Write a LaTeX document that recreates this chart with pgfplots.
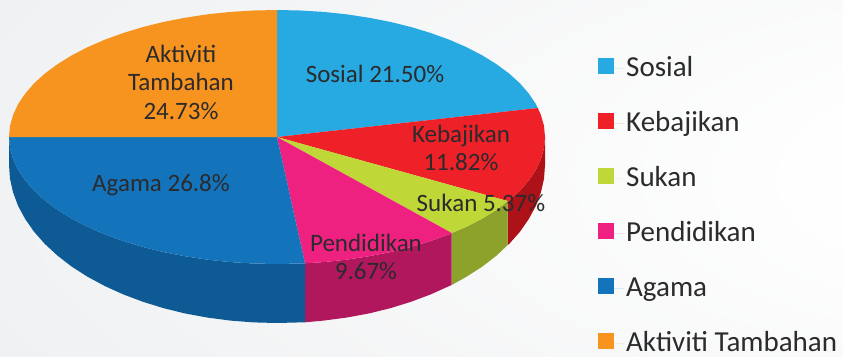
\documentclass[border=0pt]{standalone}
\usepackage{fontspec}
\setmainfont{Carlito}
\usepackage{pgfplots}
\pgfplotsset{compat=1.18}
\definecolor{cSos}{HTML}{27AAE1}
\definecolor{cKeb}{HTML}{EE2028}
\definecolor{cSuk}{HTML}{BFD737}
\definecolor{cPen}{HTML}{EE2180}
\definecolor{cAga}{HTML}{1374BC}
\definecolor{cAkt}{HTML}{F79420}
\definecolor{dKeb}{HTML}{AC1218}
\definecolor{dSuk}{HTML}{8CA22B}
\definecolor{dPen}{HTML}{B0175D}
\definecolor{dAga}{HTML}{0E5A94}
\definecolor{txt}{HTML}{2B2A2D}
\definecolor{bgA}{HTML}{FFFFFF}
\definecolor{bgB}{HTML}{F3F4F5}
\definecolor{bgC}{HTML}{E3E4E6}
\pgfdeclareradialshading{bgshade}{\pgfpoint{43bp}{0bp}}{color(0bp)=(bgA); color(12bp)=(bgA); color(45bp)=(bgB); color(100bp)=(bgC); color(130bp)=(bgC)}
\newcommand{\lblfont}{\fontsize{25pt}{28.5pt}\selectfont}
\begin{document}
\begin{tikzpicture}
\path[use as bounding box] (0pt,0pt) rectangle (843pt,356pt);
\path[shading=bgshade] (0pt,0pt) rectangle (843pt,356pt);
\begin{axis}[
  at={(0pt,0pt)}, anchor=south west,
  scale only axis, width=843pt, height=356pt,
  xmin=0, xmax=843, ymin=0, ymax=356, y dir=reverse,
  hide axis, clip=false,
  legend image code/.code={\fill[#1] (0pt,-5pt) rectangle (16pt,11pt); \path (0pt,0pt) -- (26pt,0pt);},
  legend cell align=left,
  legend style={at={(axis cs:598,55)}, anchor=north west, draw=none, fill=none,
    font=\fontsize{29pt}{32pt}\selectfont, text=txt, inner sep=0pt, row sep=28pt,
    nodes={text height=19pt,text depth=4pt}},
]
% side walls
\addplot[fill=dKeb,draw=none,forget plot] coordinates {(545,137)(544,148.1)(540.9,159.1)(535.9,169.9)(528.8,180.4)(519.9,190.7)(509.1,200.5)(507.7,201)(507.7,245)(509.1,244)(519.9,231.8)(528.8,219)(535.9,205.9)(540.9,192.4)(544,178.8)(545,165)} --cycle;
\addplot[fill=dSuk,draw=none,forget plot] coordinates {(507.7,201)(496.5,209.8)(482.3,218.6)(466.5,226.8)(451.7,233)(451.7,285)(466.5,276.7)(482.3,266.6)(496.5,255.6)(507.7,245)} --cycle;
\addplot[fill=dPen,draw=none,forget plot] coordinates {(451.7,233)(449.3,234.3)(430.7,241)(411,247)(390.3,252.1)(368.7,256.3)(346.4,259.7)(323.5,262.1)(305,263.3)(305,322.3)(323.5,320.6)(346.4,317.6)(368.7,313.5)(390.3,308.2)(411,301.8)(430.7,294.4)(449.3,286)(451.7,285)} --cycle;
\addplot[fill=dAga,draw=none,forget plot] coordinates {(305,263.3)(300.4,263.5)(277,264)(253.6,263.5)(230.5,262.1)(207.6,259.7)(185.3,256.3)(163.7,252.1)(143,247)(123.3,241)(104.7,234.3)(87.5,226.8)(71.7,218.6)(57.5,209.8)(44.9,200.5)(34.1,190.7)(25.2,180.4)(18.1,169.9)(13.1,159.1)(10,148.1)(9,137)(9,165)(10,178.8)(13.1,192.4)(18.1,205.9)(25.2,219)(34.1,231.8)(44.9,244)(57.5,255.6)(71.7,266.6)(87.5,276.7)(104.7,286)(123.3,294.4)(143,301.8)(163.7,308.2)(185.3,313.5)(207.6,317.6)(230.5,320.6)(253.6,322.4)(277,323)(300.4,322.4)(305,322.3)} --cycle;
% top faces
\addplot[fill=cSos,draw=none] coordinates {(277,137)(277,10)(300.4,10.5)(323.5,11.9)(346.4,14.3)(368.7,17.7)(390.3,21.9)(411,27)(430.7,33)(449.3,39.7)(466.5,47.2)(482.3,55.4)(496.5,64.2)(509.1,73.5)(519.9,83.3)(528.8,93.6)(535.9,104.1)(537.7,108)} --cycle;
\addplot[fill=cKeb,draw=none] coordinates {(277,137)(537.7,108)(540.9,114.9)(544,125.9)(545,137)(544,148.1)(540.9,159.1)(535.9,169.9)(528.8,180.4)(519.9,190.7)(509.1,200.5)(507.7,201)} --cycle;
\addplot[fill=cSuk,draw=none] coordinates {(277,137)(507.7,201)(496.5,209.8)(482.3,218.6)(466.5,226.8)(451.7,233)} --cycle;
\addplot[fill=cPen,draw=none] coordinates {(277,137)(451.7,233)(449.3,234.3)(430.7,241)(411,247)(390.3,252.1)(368.7,256.3)(346.4,259.7)(323.5,262.1)(305,263.3)} --cycle;
\addplot[fill=cAga,draw=none] coordinates {(277,137)(305,263.3)(300.4,263.5)(277,264)(253.6,263.5)(230.5,262.1)(207.6,259.7)(185.3,256.3)(163.7,252.1)(143,247)(123.3,241)(104.7,234.3)(87.5,226.8)(71.7,218.6)(57.5,209.8)(44.9,200.5)(34.1,190.7)(25.2,180.4)(18.1,169.9)(13.1,159.1)(10,148.1)(9,137)} --cycle;
\addplot[fill=cAkt,draw=none] coordinates {(277,137)(9,137)(10,125.9)(13.1,114.9)(18.1,104.1)(25.2,93.6)(34.1,83.3)(44.9,73.5)(57.5,64.2)(71.7,55.4)(87.5,47.2)(104.7,39.7)(123.3,33)(143,27)(163.7,21.9)(185.3,17.7)(207.6,14.3)(230.5,11.9)(253.6,10.5)(277,10)} --cycle;
\legend{Sosial,Kebajikan,Sukan,Pendidikan,Agama,Aktiviti Tambahan}
% data labels
\node[text=txt,font=\lblfont,align=center,inner sep=0pt] at (axis cs:181,82) {Aktiviti\\Tambahan\\24.73\%};
\node[text=txt,font=\lblfont,align=center,inner sep=0pt] at (axis cs:375,74) {Sosial 21.50\%};
\node[text=txt,font=\lblfont,align=center,inner sep=0pt] at (axis cs:461,148) {Kebajikan\\11.82\%};
\node[text=txt,font=\lblfont,align=center,inner sep=0pt] at (axis cs:481,203) {Sukan 5.37\%};
\node[text=txt,font=\lblfont,align=center,inner sep=0pt] at (axis cs:366,257) {Pendidikan\\9.67\%};
\node[text=txt,font=\lblfont,align=center,inner sep=0pt] at (axis cs:161,185) {Agama 26.8\%};
\end{axis}
\end{tikzpicture}
\end{document}
